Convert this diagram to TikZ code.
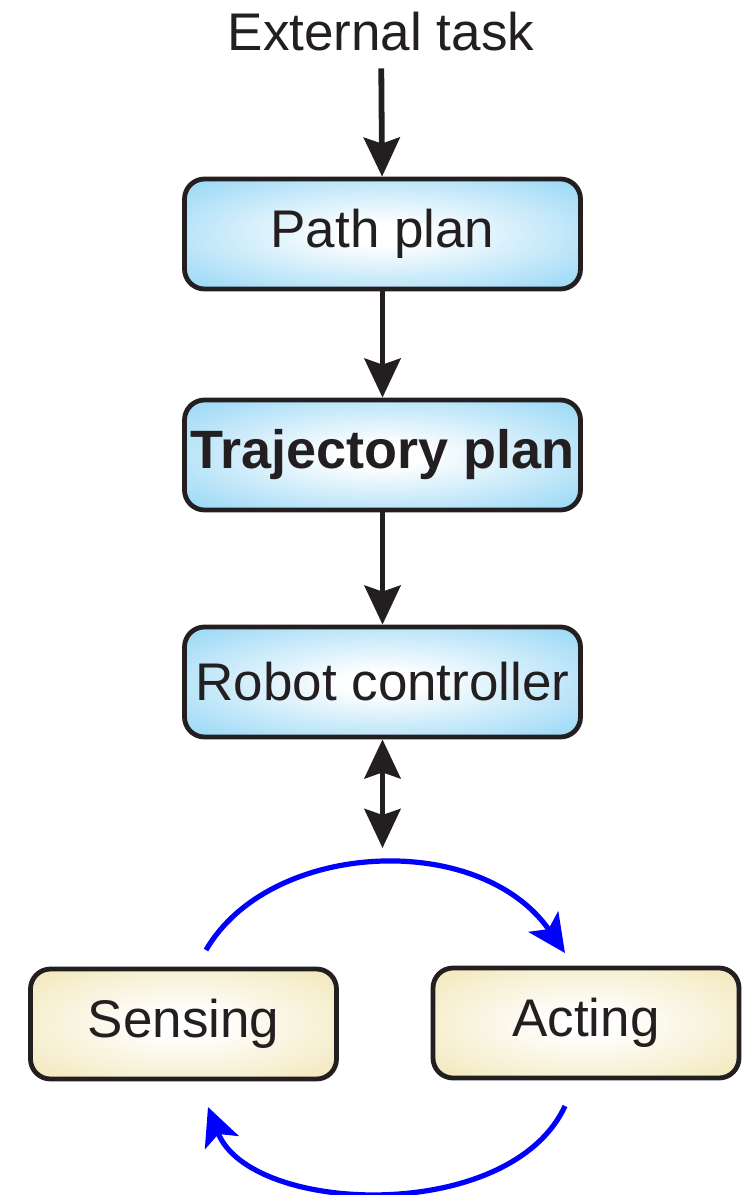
\documentclass[tikz,border=0pt]{standalone}
\usepackage{fontspec}
\setmainfont{Liberation Sans}
\usepackage{xcolor}
\usepackage{tikz}
\usetikzlibrary{arrows.meta}

\definecolor{inkblack}{RGB}{35,31,32}
\definecolor{skyedge}{RGB}{128,206,243}
\definecolor{sandedge}{RGB}{239,226,170}

\pgfdeclareradialshading{skyglow}{\pgfpoint{0bp}{0bp}}{%
  color(0bp)=(white); color(5bp)=(white); color(42bp)=(skyedge); color(50bp)=(skyedge)}
\pgfdeclareradialshading{sandglow}{\pgfpoint{0bp}{0bp}}{%
  color(0bp)=(white); color(5bp)=(white); color(42bp)=(sandedge); color(50bp)=(sandedge)}

\begin{document}
\begin{tikzpicture}[x=0.5pt, y=-0.5pt,
    every node/.style={text=inkblack, font=\fontsize{26.5pt}{30pt}\selectfont},
    block/.style={draw=inkblack, line width=2.4pt, rounded corners=10pt,
      inner sep=2pt, minimum height=55pt},
    planbox/.style={block, shading=skyglow, minimum width=198pt},
    loopbox/.style={block, shading=sandglow, minimum width=153pt},
    flow/.style={draw=inkblack, line width=2.9pt,
      -{Stealth[length=19.5pt, width=18pt, inset=3pt]}},
    cycle/.style={draw=blue, line width=2.6pt,
      -{Stealth[length=19pt, width=18pt, inset=4.5pt]}}]

    \useasboundingbox (0,0) rectangle (744,1195);

    % Planning chain
    \node[inner sep=8.5pt] (task) at (381,31.5) {External task};
    \node[planbox] (path) at (382.5,234) {Path plan};
    \node[planbox, font=\fontsize{27pt}{30pt}\selectfont\bfseries] (traj) at (382.5,455) {Trajectory plan};
    \node[planbox] (robot) at (382.5,682) {Robot controller};

    \draw[flow] (task) -- (path);
    \draw[flow] (path) -- (traj);
    \draw[flow] (traj) -- (robot);

    % Link to the sense/act loop
    \coordinate (link) at (382.5,848);
    \draw[flow, {Stealth[length=19.5pt, width=18pt, inset=3pt]}-{Stealth[length=19.5pt, width=18pt, inset=3pt]}]
      (robot) -- (link);

    % Sense / act loop
    \node[loopbox] (sense) at (183.5,1024) {Sensing};
    \node[loopbox] (act) at (586,1023) {Acting};

    \coordinate (senseout) at (206,950);
    \coordinate (actin) at (565,953);
    \coordinate (actout) at (565,1106);
    \coordinate (sensein) at (208,1107);

    \draw[cycle] (senseout) .. controls (270,840) and (480,830) .. (actin);
    \draw[cycle] (actout) .. controls (510,1225) and (250,1215) .. (sensein);

\end{tikzpicture}
\end{document}
